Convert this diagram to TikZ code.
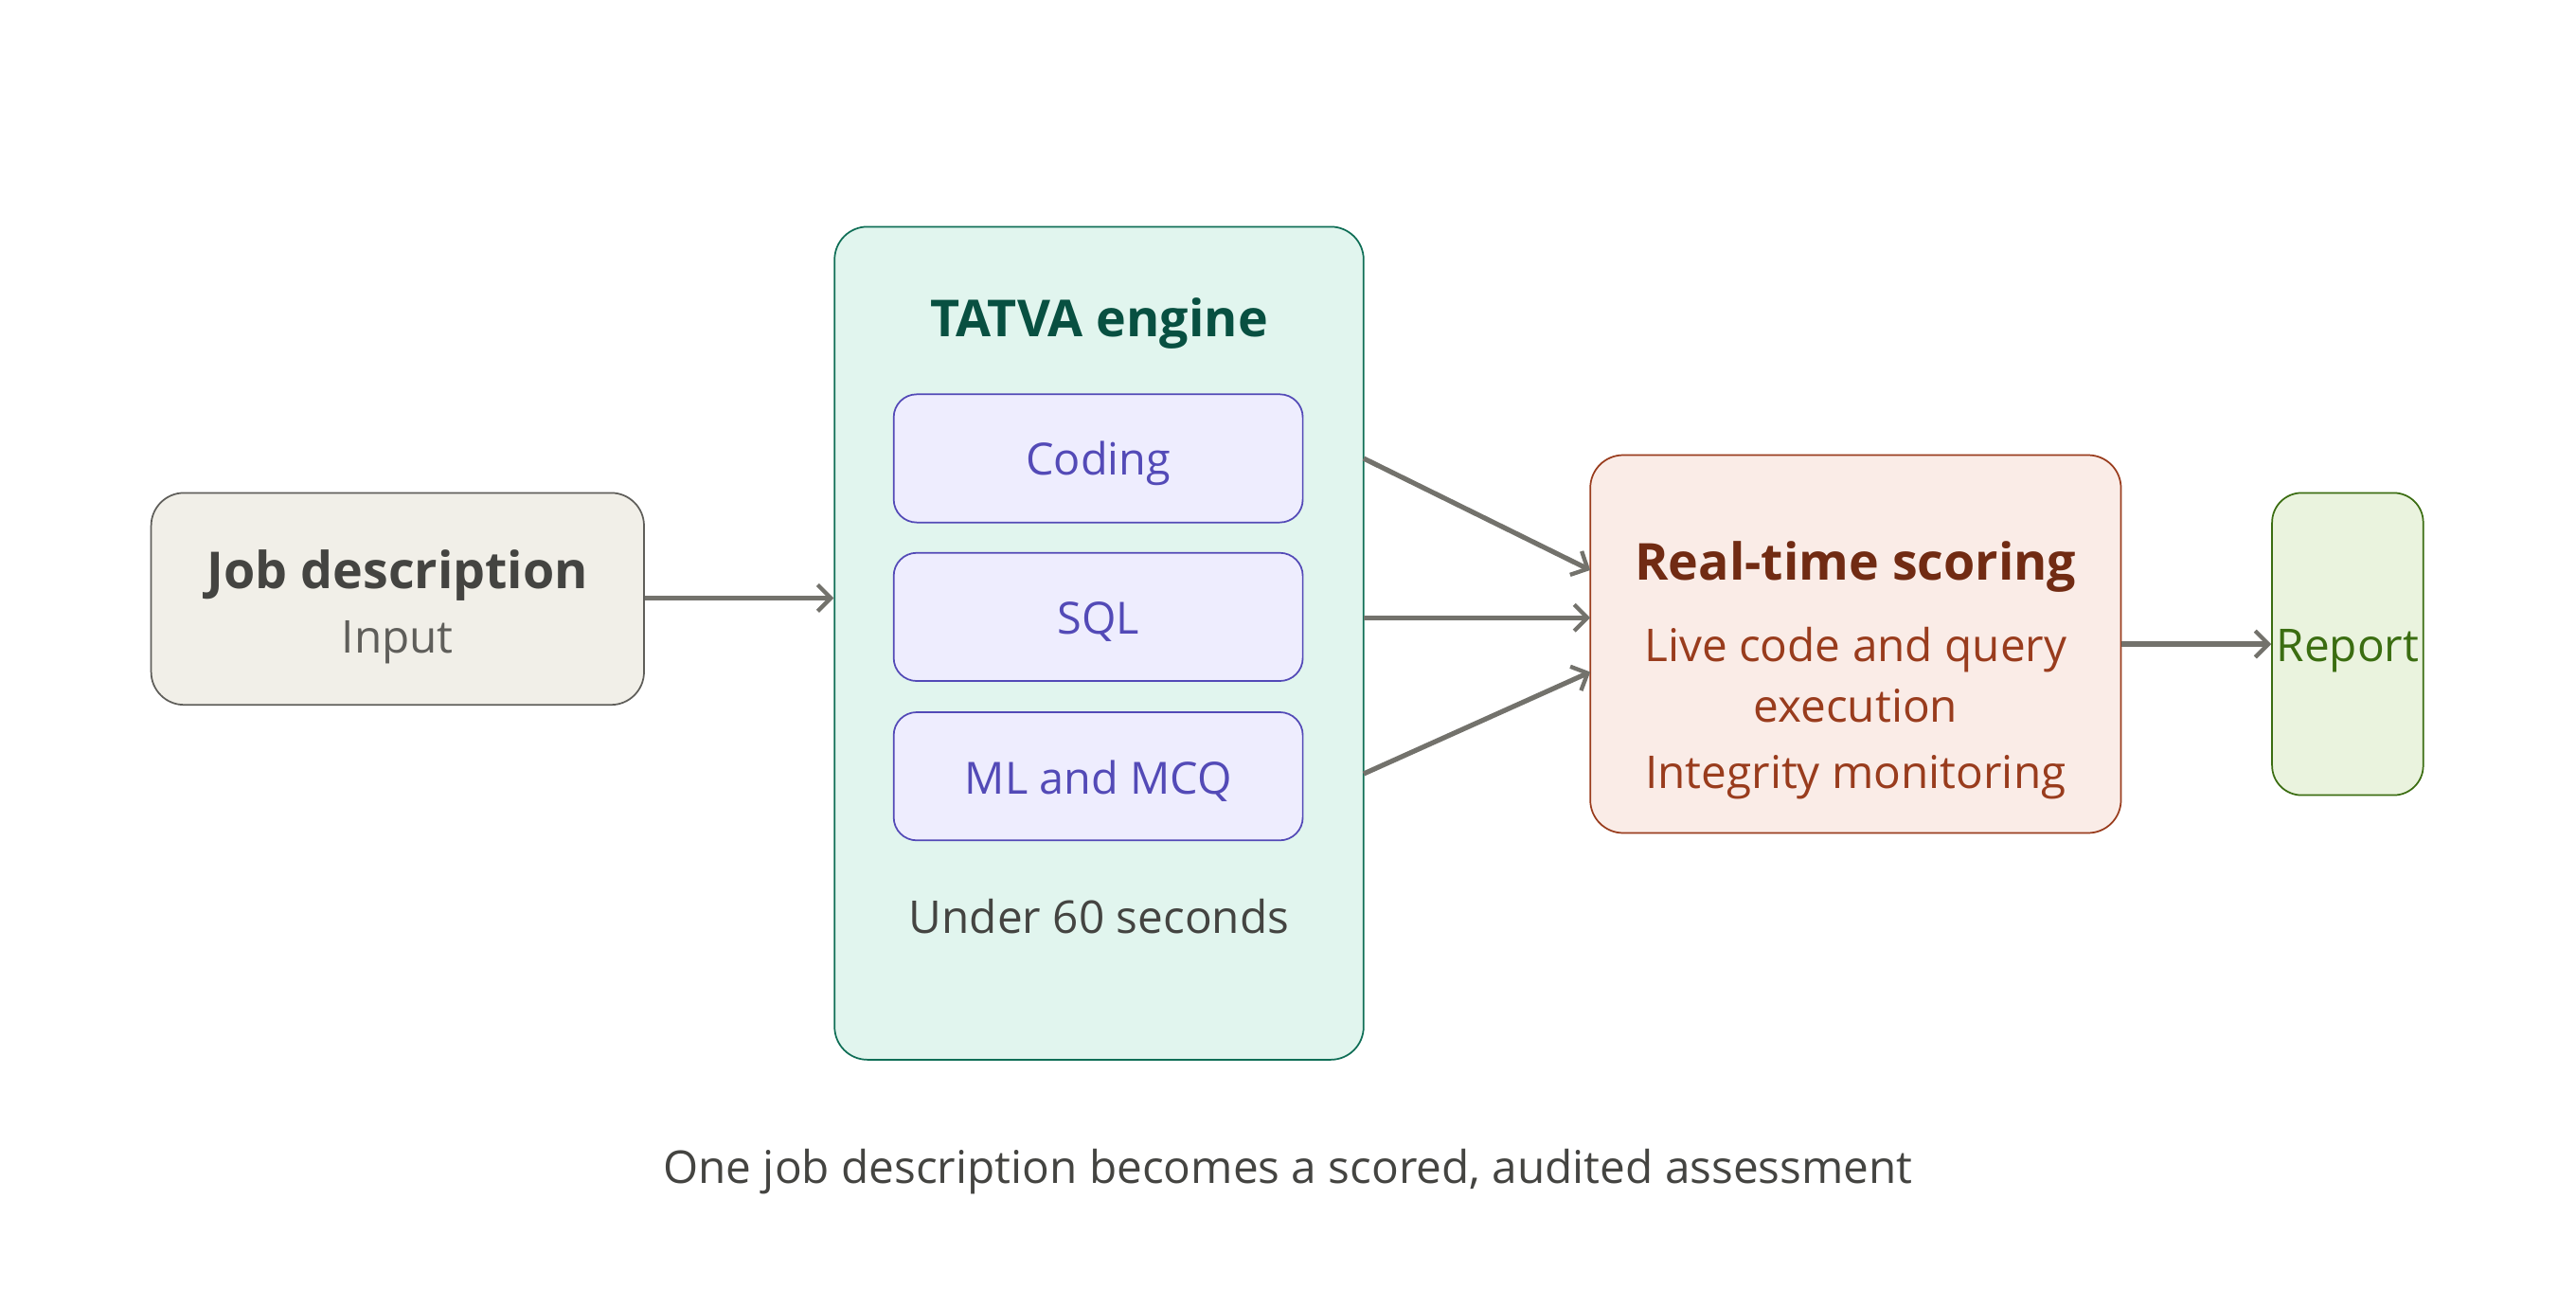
\documentclass[tikz,border=0pt]{standalone}
\usepackage{fontspec}
\setmainfont{Open Sans}
\usetikzlibrary{arrows.meta,positioning}
\definecolor{jobfill}{HTML}{F1EFE8}\definecolor{jobline}{HTML}{5F5E5A}
\definecolor{engfill}{HTML}{E1F5EE}\definecolor{engline}{HTML}{0F6E56}\definecolor{engtext}{HTML}{085041}
\definecolor{subfill}{HTML}{EEEDFE}\definecolor{subline}{HTML}{534AB7}
\definecolor{scofill}{HTML}{FAECE7}\definecolor{scoline}{HTML}{993C1D}\definecolor{scotext}{HTML}{712B13}
\definecolor{repfill}{HTML}{EAF3DE}\definecolor{repline}{HTML}{3B6D11}
\definecolor{arrowgray}{HTML}{73726C}\definecolor{bodytext}{HTML}{444441}
\tikzset{
  box/.style={draw, rounded corners=20pt, line width=1pt, inner sep=0pt},
  subbox/.style={box, fill=subfill, draw=subline, rounded corners=14pt, minimum width=249pt, minimum height=78pt},
  subtext/.style={text=subline, font=\fontsize{27}{30}\selectfont},
  flow/.style={draw=arrowgray, line width=3pt, -{Straight Barb[length=8pt,width=16pt,line width=2.5pt]}},
  title/.style={font=\fontsize{31}{36}\selectfont\bfseries},
  body/.style={font=\fontsize{27.5}{37}\selectfont}
}
\begin{document}
\begin{tikzpicture}[x=1pt,y=1pt,yscale=-1]
  \useasboundingbox (0,0) rectangle (1568,784);
  % boxes
  \node[box, fill=jobfill, draw=jobline, minimum width=300pt, minimum height=129pt] (job) at (242,364.5) {};
  \node[box, fill=engfill, draw=engline, minimum width=322pt, minimum height=507pt] (tatva) at (669,391.5) {};
  \node[box, fill=scofill, draw=scoline, minimum width=323pt, minimum height=230pt] (scoring) at (1129.5,392) {};
  \node[box, fill=repfill, draw=repline, rounded corners=18pt, minimum width=92pt, minimum height=184pt] (report) at (1429,392) {};
  \node[subbox] (coding) at (668.5,279) {};
  \node[subbox] (sql) at (668.5,375.5) {};
  \node[subbox] (mlmcq) at (668.5,472.5) {};
  % texts
  \node[title, text=bodytext] (jobtitle) at (242,350) {Job description};
  \node[body, text=jobline] (jobsub) at (242,391) {Input};
  \node[title, text=engtext] (engtitle) at (669,197) {TATVA engine};
  \node[subtext] (codingtext) at (668.5,282) {Coding};
  \node[subtext] (sqltext) at (668.5,378.5) {SQL};
  \node[subtext] (mlmcqtext) at (668.5,475.5) {ML and MCQ};
  \node[body, text=bodytext] (under) at (669,558) {Under 60 seconds};
  \node[title, text=scotext] (scotitle) at (1129.5,345) {Real-time scoring};
  \node[body, text=scoline, align=center] (scolive) at (1129.5,411) {Live code and query\\execution};
  \node[body, text=scoline] (scoint) at (1129.5,473) {Integrity monitoring};
  \node[body, text=repline] (reptext) at (1429,396) {Report};
  \node[body, text=bodytext] (caption) at (784,713) {One job description becomes a scored, audited assessment};
  % connectors
  \coordinate (c1) at (830,279); \coordinate (c2) at (830,376); \coordinate (c3) at (830,471);
  \coordinate (s1) at (968,347); \coordinate (s2) at (968,376); \coordinate (s3) at (968,409);
  \draw[flow] (job.east |- 0,364) -- (tatva.west |- 0,364);
  \draw[flow] (c1) -- (s1);
  \draw[flow] (c2) -- (s2);
  \draw[flow] (c3) -- (s3);
  \draw[flow] (scoring.east) -- (report.west);
\end{tikzpicture}
\end{document}
